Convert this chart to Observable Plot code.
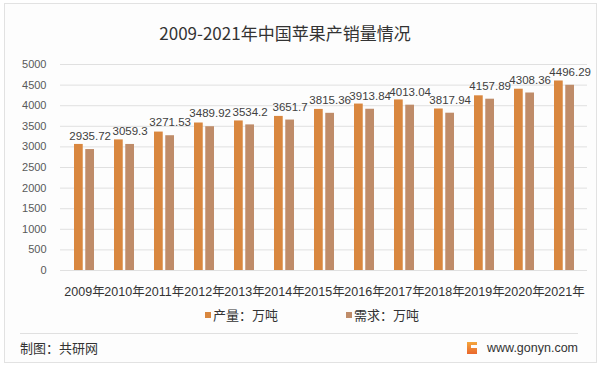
<!DOCTYPE html>
<html>
<head>
<meta charset="utf-8">
<script src="https://cdn.jsdelivr.net/npm/d3@7"></script>
<script src="https://cdn.jsdelivr.net/npm/@observablehq/plot@0.6"></script>
<style>
  html, body { margin: 0; padding: 0; background: #ffffff; }
  #wrap { position: relative; width: 600px; height: 365px; overflow: hidden; background: #fff; }
  #frame { position: absolute; left: 4px; top: 3px; width: 591px; height: 358px; border: 1px solid #e2e2e2; background: #fdfdfd; }
  #title { position: absolute; left: 0; width: 570px; top: 21px; text-align: center; font: 17px "Noto Sans CJK SC", sans-serif; color: #333; line-height: 24px; }
  #chart { position: absolute; left: 0; top: 50px; }
  .leg { position: absolute; top: 306px; font: 13px "Noto Sans CJK SC", sans-serif; color: #333; line-height: 18px; }
  .sw { display: inline-block; width: 6px; height: 6px; margin-right: 2px; vertical-align: 2px; }
  #rule { position: absolute; left: 20px; top: 333px; width: 558px; height: 1px; background: #e0e0e0; }
  #src { position: absolute; left: 20px; top: 339px; font: 13px "Noto Sans CJK SC", sans-serif; color: #333; line-height: 18px; }
  #site { position: absolute; right: 22px; top: 339px; font: 12.5px "Liberation Sans", Arial, sans-serif; color: #333; line-height: 18px; }
  #logo { position: absolute; left: 467px; top: 342px; width: 10px; height: 12px; background: linear-gradient(#f4a63c, #e9672d); }
  #logo::after { content: ""; position: absolute; left: 4px; top: 3px; width: 6px; height: 3px; background: #fdfdfd; }
</style>
</head>
<body>
<div id="wrap">
  <div id="frame"></div>
  <div id="title">2009-2021年中国苹果产销量情况</div>
  <div id="chart"></div>
  <div class="leg" id="leg1"></div>
  <div class="leg" id="leg2"></div>
  <div id="rule"></div>
  <div id="src">制图：共研网</div>
  <div id="logo"></div>
  <div id="site">www.gonyn.com</div>
</div>
<script>
const years = ["2009年","2010年","2011年","2012年","2013年","2014年","2015年","2016年","2017年","2018年","2019年","2020年","2021年"];
const production = [3060, 3170, 3360, 3580, 3630, 3740, 3910, 4040, 4140, 3920, 4240, 4400, 4600];
const demand = [2935.72, 3059.3, 3271.53, 3489.92, 3534.2, 3651.7, 3815.36, 3913.84, 4013.04, 3817.94, 4157.89, 4308.36, 4496.29];
const seriesNames = ["产量：万吨", "需求：万吨"];
const seriesColors = ["#D9873F", "#BF8C69"];
const yTicks = [0, 500, 1000, 1500, 2000, 2500, 3000, 3500, 4000, 4500, 5000];

const prodData = years.map((y, i) => ({year: y, value: production[i], series: seriesNames[0]}));
const demData = years.map((y, i) => ({year: y, value: demand[i], series: seriesNames[1]}));

const bw = 527 / 13 * 0.5;
const barW = 9;
const inset = bw - barW;

const chart = Plot.plot({
  width: 600,
  height: 255,
  marginTop: 14,
  marginBottom: 35,
  marginLeft: 60,
  marginRight: 13,
  style: { fontFamily: "'Liberation Sans','Noto Sans CJK SC',sans-serif", fontSize: "11px", color: "#595959", background: "transparent" },
  x: { domain: years, paddingInner: 0.5, paddingOuter: 0.25, label: null, tickSize: 0, tickPadding: 17, tickFormat: d => d },
  y: { domain: [0, 5000], ticks: yTicks, label: null, tickSize: 0, tickPadding: 14, tickFormat: d => String(d) },
  color: { domain: seriesNames, range: seriesColors },
  marks: [
    Plot.gridY(yTicks, { stroke: "#e0e0e0", strokeOpacity: 1 }),
    Plot.barY(prodData, { x: "year", y: "value", fill: "series", insetRight: inset }),
    Plot.barY(demData, { x: "year", y: "value", fill: "series", insetLeft: inset }),
    Plot.text(demData, { x: "year", y: "value", text: d => String(d.value), dx: bw / 2 - barW / 2, dy: -13, fontSize: 11.5, fill: "#404040" })
  ]
});
chart.querySelectorAll("g[aria-label='x-axis tick label'] text").forEach(t => { t.setAttribute("fill", "#333"); t.style.fontSize = "12.5px"; });
document.getElementById("chart").appendChild(chart);

document.getElementById("leg1").style.left = "205px";
document.getElementById("leg1").innerHTML = `<span class="sw" style="background:${seriesColors[0]}"></span>${seriesNames[0]}`;
document.getElementById("leg2").style.left = "346px";
document.getElementById("leg2").innerHTML = `<span class="sw" style="background:${seriesColors[1]}"></span>${seriesNames[1]}`;
</script>
</body>
</html>
